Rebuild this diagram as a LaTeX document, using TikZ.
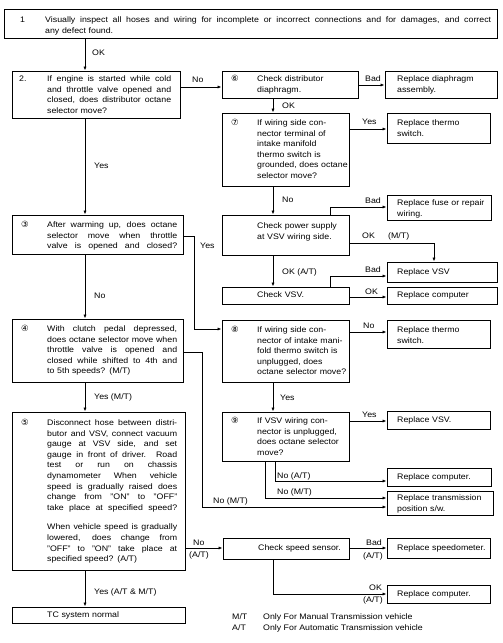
\documentclass[tikz,border=0pt]{standalone}
\usepackage{fontspec}
\setmainfont{Liberation Sans}[FakeStretch=1.1]
\newfontfamily\circfont{DejaVu Sans}
\usetikzlibrary{arrows.meta,fit}
\tikzset{
  box/.style={draw, line width=1pt, inner sep=0pt},
  txt/.style={inner sep=0pt, anchor=base west, align=left, font=\fontsize{8}{10.6}\selectfont},
  lbl/.style={inner sep=0pt, anchor=base west, font=\fontsize{8}{10.6}\selectfont},
  num/.style={inner sep=0pt, anchor=base, font=\fontsize{8.5}{10.6}\selectfont\circfont},
  arr/.style={line width=0.8pt, -{Latex[length=4pt,width=3.2pt]}},
}
\newcommand\J[2][130pt]{\makebox[#1][s]{\spaceskip=0pt\xspaceskip=0pt #2}}
\begin{document}
\begin{tikzpicture}[x=1pt,y=-1pt]
\useasboundingbox (0,0) rectangle (503,643);
\fill[white] (0,0) rectangle (503,643);
% ---------- boxes
\node[box, fit={(4,9)(497,38)}] (b1) {};
\node[box, fit={(12,71)(180,118)}] (b2) {};
\node[box, fit={(222,71)(358,98)}] (b6) {};
\node[box, fit={(385,71)(497,98)}] (rd) {};
\node[box, fit={(222,113)(349,186)}] (b7) {};
\node[box, fit={(387,113)(490,143)}] (rt1) {};
\node[box, fit={(222,215)(349,255)}] (cp) {};
\node[box, fit={(387,195)(491,220)}] (rf) {};
\node[box, fit={(387,262)(497,282)}] (rv) {};
\node[box, fit={(222,287)(349,304)}] (cv) {};
\node[box, fit={(387,287)(497,304)}] (rc1) {};
\node[box, fit={(12,215)(183,254)}] (b3) {};
\node[box, fit={(12,319)(183,382)}] (b4) {};
\node[box, fit={(222,320)(349,382)}] (b8) {};
\node[box, fit={(387,320)(490,348)}] (rt2) {};
\node[box, fit={(222,412)(349,461)}] (b9) {};
\node[box, fit={(387,411)(490,429)}] (rv2) {};
\node[box, fit={(387,468)(491,486)}] (rc2) {};
\node[box, fit={(387,491)(493,515)}] (rtr) {};
\node[box, fit={(12,412)(185,570)}] (b5) {};
\node[box, fit={(223,538)(349,559)}] (cs) {};
\node[box, fit={(387,538)(490,558)}] (rs) {};
\node[box, fit={(387,585)(490,603)}] (rc3) {};
\node[box, fit={(12,607)(185,623)}] (tc) {};
% ---------- numbers
\node[lbl] (n1) at (20,22.5) {1};
\node[lbl] (n2) at (19,81.5) {2.};
\node[num] (n3) at (25,227.5) {③};
\node[num] (n4) at (25,331.5) {④};
\node[num] (n5) at (25,425.5) {⑤};
\node[num] (n6) at (235,81.5) {⑥};
\node[num] (n7) at (235,125.5) {⑦};
\node[num] (n8) at (235,332.5) {⑧};
\node[num] (n9) at (235,423.5) {⑨};
% ---------- texts
\node[txt, text width=447pt] (t1) at (45,22.5) {\J[446pt]{Visually inspect all hoses and wiring for incomplete or incorrect connections and for damages, and correct}\\any defect found.};
\node[txt, text width=125pt] (t2) at (47,81.5) {\J[124pt]{If engine is started while cold}\\\J[124pt]{and throttle valve opened and}\\\J[124pt]{closed, does distributor octane}\\selector move?};
\node[txt, text width=100pt] (t6) at (257,81.5) {Check distributor\\diaphragm.};
\node[txt, text width=98pt] (trd) at (397,81.5) {Replace diaphragm\\assembly.};
\node[txt, text width=92pt] (t7) at (257,125.5) {If wiring side con-\\nector terminal of\\intake manifold\\thermo switch is\\grounded, does octane\\selector move?};
\node[txt, text width=92pt] (trt1) at (397,125.5) {Replace thermo\\switch.};
\node[txt, text width=92pt] (tcp) at (257,228.5) {Check power supply\\at VSV wiring side.};
\node[txt, text width=94pt] (trf) at (397,205.5) {Replace fuse or repair\\wiring.};
\node[txt, text width=92pt] (trv) at (397,274.5) {Replace VSV};
\node[txt, text width=92pt] (tcv) at (257,297.5) {Check VSV.};
\node[txt, text width=92pt] (trc1) at (397,297.5) {Replace computer};
\node[txt, text width=130pt] (t3) at (47,227.5) {\J{After warming up, does octane}\\\J{selector move when throttle}\\\J{valve is opened and closed?}};
\node[txt, text width=130pt] (t4) at (47,331.5) {\J{With clutch pedal depressed,}\\\J{does octane selector move when}\\\J{throttle valve is opened and}\\\J{closed while shifted to 4th and}\\to 5th speeds? (M/T)};
\node[txt, text width=96pt] (t8) at (257,332.5) {If wiring side con-\\nector of intake mani-\\fold thermo switch is\\unplugged, does\\octane selector move?};
\node[txt, text width=92pt] (trt2) at (397,332.5) {Replace thermo\\switch.};
\node[txt, text width=92pt] (t9) at (257,423.5) {If VSV wiring con-\\nector is unplugged,\\does octane selector\\move?};
\node[txt, text width=92pt] (trv2) at (397,422.5) {Replace VSV.};
\node[txt, text width=92pt] (trc2) at (397,479.5) {Replace computer.};
\node[txt, text width=94pt] (trtr) at (397,500.5) {Replace transmission\\position s/w.};
\node[txt, text width=130pt] (t5) at (47,425.5) {\J{Disconnect hose between distri-}\\\J{butor and VSV, connect vacuum}\\\J{gauge at VSV side, and set}\\\J{gauge in front of driver. Road}\\\J{test or run on chassis}\\\J{dynamometer When vehicle}\\\J{speed is gradually raised does}\\\J{change from "ON" to "OFF"}\\\J{take place at specified speed?}\\[9pt]\J{When vehicle speed is gradually}\\\J{lowered, does change from}\\\J{"OFF" to "ON" take place at}\\specified speed? (A/T)};
\node[txt, text width=90pt] (tcs) at (258,550.5) {Check speed sensor.};
\node[txt, text width=92pt] (trs) at (397,550.5) {Replace speedometer.};
\node[txt, text width=92pt] (trc3) at (397,596.5) {Replace computer.};
\node[txt, text width=130pt] (ttc) at (47,617.5) {TC system normal};
% ---------- helper coordinates
\coordinate (x85) at (85,0);
\coordinate (x194) at (194,0);
\coordinate (x202) at (202,0);
\coordinate (x265) at (265,0);
\coordinate (x273) at (273,0);
\coordinate (x275) at (275,0);
\coordinate (x330) at (330,0);
\coordinate (x434) at (434,0);
\coordinate (y87) at (0,87);
\coordinate (y85) at (0,85);
\coordinate (y129) at (0,129);
\coordinate (y207) at (0,207);
\coordinate (y243) at (0,243);
\coordinate (y276) at (0,276);
\coordinate (y297) at (0,297);
\coordinate (y236) at (0,236);
\coordinate (y329) at (0,329);
\coordinate (y332) at (0,332);
\coordinate (y421) at (0,421);
\coordinate (y481) at (0,481);
\coordinate (y498) at (0,498);
\coordinate (y352) at (0,352);
\coordinate (y507) at (0,507);
\coordinate (y548) at (0,548);
\coordinate (y594) at (0,594);
% ---------- connectors
\draw[arr] (b1.south -| x85) -- (b2.north -| x85);
\draw[arr] (b2.south -| x85) -- (b3.north -| x85);
\draw[arr] (b3.south -| x85) -- (b4.north -| x85);
\draw[arr] (b4.south -| x85) -- (b5.north -| x85);
\draw[arr] (b5.south -| x85) -- (tc.north -| x85);
\draw[arr] (b2.east |- y87) -- (b6.west |- y87);
\draw[arr] (b6.east |- y85) -- (rd.west |- y85);
\draw[arr] (b6.south -| x273) -- (b7.north -| x273);
\draw[arr] (b7.east |- y129) -- (rt1.west |- y129);
\draw[arr] (b7.south -| x273) -- (cp.north -| x273);
\draw[arr] (cp.north -| x330) |- (rf.west |- y207);
\draw[arr] (cp.east |- y243) -| (rv.north -| x434);
\draw[arr] (cp.south -| x273) -- (cv.north -| x273);
\draw[arr] (cv.north -| x330) |- (rv.west |- y276);
\draw[arr] (cv.east |- y297) -- (rc1.west |- y297);
\draw[arr] (b3.east |- y236) -| (x194 |- y329) -- (b8.west |- y329);
\draw[arr] (b8.east |- y332) -- (rt2.west |- y332);
\draw[arr] (b8.south -| x273) -- (b9.north -| x273);
\draw[arr] (b9.east |- y421) -- (rv2.west |- y421);
\draw[arr] (b9.south -| x275) |- (rc2.west |- y481);
\draw[arr] (b9.south -| x265) |- (rtr.west |- y498);
\draw[arr] (b4.east |- y352) -| (x202 |- y507) -- (rtr.west |- y507);
\draw[arr] (b5.east |- y548) -- (cs.west |- y548);
\draw[arr] (cs.east |- y548) -- (rs.west |- y548);
\draw[arr] (cs.south -| x273) |- (rc3.west |- y594);
% ---------- labels
\node[lbl] (l1) at (92,55.5) {OK};
\node[lbl] (l2) at (94,168.5) {Yes};
\node[lbl] (l3) at (94,298.5) {No};
\node[lbl] (l4) at (94,399.5) {Yes (M/T)};
\node[lbl] (l5) at (94,594.5) {Yes (A/T \& M/T)};
\node[lbl] (l6) at (192,82.5) {No};
\node[lbl] (l7) at (365,81.5) {Bad};
\node[lbl] (l8) at (282,108.5) {OK};
\node[lbl] (l9) at (362,124.5) {Yes};
\node[lbl] (l10) at (282,202.5) {No};
\node[lbl] (l11) at (365,203.5) {Bad};
\node[lbl] (l12) at (362,238.5) {OK};
\node[lbl] (l13) at (388,238.5) {(M/T)};
\node[lbl] (l14) at (282,274.5) {OK (A/T)};
\node[lbl] (l15) at (365,272.5) {Bad};
\node[lbl] (l16) at (365,294.5) {OK};
\node[lbl] (l17) at (200,248.5) {Yes};
\node[lbl] (l18) at (363,328.5) {No};
\node[lbl] (l19) at (280,400.5) {Yes};
\node[lbl] (l20) at (362,417.5) {Yes};
\node[lbl] (l21) at (277,478.5) {No (A/T)};
\node[lbl] (l22) at (277,494.5) {No (M/T)};
\node[lbl] (l23) at (213,503.5) {No (M/T)};
\node[lbl] (l24) at (193,545.5) {No};
\node[lbl] (l25) at (189,557.5) {(A/T)};
\node[lbl] (l26) at (366,545.5) {Bad};
\node[lbl] (l27) at (363,558.5) {(A/T)};
\node[lbl] (l28) at (369,590.5) {OK};
\node[lbl] (l29) at (363,602.5) {(A/T)};
% ---------- legend
\node[lbl] (m1) at (232,619.5) {M/T};
\node[lbl] (m2) at (263,619.5) {Only For Manual Transmission vehicle};
\node[lbl] (m3) at (232,630.5) {A/T};
\node[lbl] (m4) at (263,630.5) {Only For Automatic Transmission vehicle};
\end{tikzpicture}
\end{document}
